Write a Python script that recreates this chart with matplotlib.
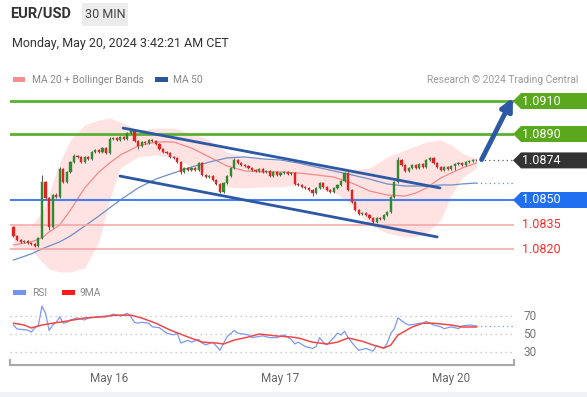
import matplotlib
matplotlib.use("Agg")
import matplotlib.pyplot as plt
import matplotlib.transforms as mtransforms
from matplotlib.patches import Polygon, Rectangle

plt.rcParams['font.family'] = ['Roboto', 'DejaVu Sans']

# --- данные (30-минутные свечи EUR/USD, индекс 0..130) ---
first_open = 1.08336
closes = [
    1.08282, 1.08258, 1.08245, 1.08252, 1.08239, 1.08233, 1.08221, 1.08270, 1.08609, 1.08512,
    1.08336, 1.08530, 1.08518, 1.08688, 1.08609, 1.08670, 1.08730, 1.08767, 1.08761, 1.08730,
    1.08761, 1.08749, 1.08791, 1.08803, 1.08791, 1.08815, 1.08785, 1.08870, 1.08876, 1.08864,
    1.08882, 1.08870, 1.08906, 1.08918, 1.08858, 1.08827, 1.08852, 1.08845, 1.08864, 1.08858,
    1.08839, 1.08809, 1.08791, 1.08785, 1.08761, 1.08755, 1.08730, 1.08670, 1.08694, 1.08682,
    1.08694, 1.08682, 1.08724, 1.08652, 1.08639, 1.08645, 1.08621, 1.08597, 1.08549, 1.08603,
    1.08645, 1.08694, 1.08742, 1.08724, 1.08712, 1.08706, 1.08694, 1.08682, 1.08676, 1.08688,
    1.08670, 1.08673, 1.08645, 1.08670, 1.08652, 1.08664, 1.08670, 1.08658, 1.08664, 1.08597,
    1.08591, 1.08579, 1.08573, 1.08561, 1.08542, 1.08573, 1.08603, 1.08579, 1.08561, 1.08549,
    1.08573, 1.08591, 1.08615, 1.08664, 1.08561, 1.08488, 1.08439, 1.08415, 1.08421, 1.08409,
    1.08391, 1.08367, 1.08391, 1.08385, 1.08409, 1.08427, 1.08518, 1.08609, 1.08742, 1.08712,
    1.08676, 1.08694, 1.08712, 1.08694, 1.08718, 1.08700, 1.08742, 1.08755, 1.08724, 1.08700,
    1.08682, 1.08700, 1.08688, 1.08706, 1.08718, 1.08724, 1.08712, 1.08730, 1.08736, 1.08742,
    1.08740]
# тени свечей, в пунктах
wick_hi = [
    1, 1, 1, 1, 1, 1, 1, 1, 7, 1,
    1, 1, 2, 2, 1, 1, 1, 1.5, 1, 1,
    1, 1, 1, 1, 1, 1, 1, 1.5, 1, 1,
    1, 1, 1, 1.5, 1, 1, 1, 1, 1, 1,
    1, 1, 1, 1, 1, 1, 1, 1, 1, 1,
    1, 1, 1, 1, 1, 1, 1, 1, 1, 1,
    1, 1, 2.5, 1, 1, 1, 1, 1, 1, 1,
    1, 1, 1, 1, 1, 1, 1, 1, 1, 1,
    1, 1, 1, 1, 1, 1, 1, 1, 1, 1,
    1, 1, 1, 1, 1, 1, 1, 1, 1, 1,
    1, 1, 1, 1, 1, 1, 1, 1, 3, 1,
    1, 1, 1, 1, 1, 1, 1, 1, 1, 1,
    1, 1, 1, 1, 1, 1, 1, 1, 1.5, 1,
    1]
wick_lo = [
    1, 1, 1, 1, 1, 1, 1.5, 1, 1, 1,
    3, 1, 1, 1, 1, 1, 1, 1, 1, 1,
    1, 1, 1, 1, 1, 1, 1, 1, 1, 1,
    1, 1, 1, 1, 1, 3, 1, 1, 1, 1,
    1, 1, 1, 1, 1, 1, 1, 2, 1, 1,
    1, 1, 1, 1, 1, 1, 1, 1, 1.5, 1,
    1, 1, 1, 1, 1, 1, 1, 1, 1, 1,
    1, 1, 1, 1, 1, 1, 1, 1, 1, 1,
    1, 1, 1, 1, 2.5, 1, 1, 1, 1, 1,
    1, 1, 1, 1, 1, 1, 1, 1, 1, 1,
    1, 2.5, 1, 1, 1, 1, 1, 1, 1, 1,
    1, 1, 1, 1, 1, 1, 1, 1, 1, 1,
    1, 1, 1, 1, 4, 1, 1, 1, 1, 1,
    1]

band_idx = [0, 5, 8, 10, 13, 16, 20, 24, 27, 30, 35, 40, 45, 50, 55, 60,
            65, 70, 75, 80, 85, 90, 95, 100, 105, 110, 113, 116, 120, 123, 126, 130]
bb_upper = [1.08349, 1.08342, 1.08427, 1.08542, 1.08730, 1.08864, 1.08955, 1.08985,
            1.08997, 1.08973, 1.08924, 1.08936, 1.08936, 1.08906, 1.08864, 1.08791,
            1.08761, 1.08749, 1.08736, 1.08730, 1.08712, 1.08700, 1.08682, 1.08694,
            1.08761, 1.08803, 1.08827, 1.08852, 1.08864, 1.08833, 1.08785, 1.08749]
bb_lower = [1.08215, 1.08203, 1.08124, 1.08082, 1.08064, 1.08064, 1.08088, 1.08246,
            1.08500, 1.08694, 1.08761, 1.08773, 1.08755, 1.08706, 1.08639, 1.08579,
            1.08573, 1.08579, 1.08579, 1.08591, 1.08573, 1.08549, 1.08470, 1.08349,
            1.08300, 1.08276, 1.08276, 1.08300, 1.08379, 1.08530, 1.08633, 1.08694]
ma20 = [1.08227, 1.08246, 1.08270, 1.08306, 1.08349, 1.08439, 1.08573, 1.08670,
        1.08724, 1.08773, 1.08827, 1.08852, 1.08852, 1.08815, 1.08761, 1.08706,
        1.08676, 1.08670, 1.08670, 1.08664, 1.08652, 1.08639, 1.08603, 1.08555,
        1.08530, 1.08524, 1.08542, 1.08573, 1.08633, 1.08664, 1.08694, 1.08724]
ma50 = [1.08136, 1.08173, 1.08203, 1.08221, 1.08246, 1.08282, 1.08342, 1.08403,
        1.08452, 1.08500, 1.08573, 1.08627, 1.08664, 1.08700, 1.08730, 1.08755,
        1.08761, 1.08749, 1.08742, 1.08724, 1.08700, 1.08676, 1.08652, 1.08627,
        1.08597, 1.08585, 1.08585, 1.08585, 1.08591, 1.08591, 1.08597, 1.08603]

rsi_idx = [0, 1, 4, 5, 6, 7, 8, 9, 10, 11, 12, 13, 14, 15, 16, 18, 20, 21, 24, 26,
           28, 30, 32, 33, 34, 35, 36, 38, 39, 41, 43, 45, 46, 47, 49, 50, 52, 53, 54, 56,
           58, 60, 62, 63, 66, 67, 70, 72, 74, 76, 78, 79, 80, 82, 84, 85, 86, 87, 88, 90,
           91, 92, 93, 94, 96, 97, 99, 101, 102, 104, 105, 106, 107, 108, 110, 111, 113, 114,
           115, 116, 118, 120, 121, 123, 125, 126, 128, 130]
rsi_val = [60, 55.6, 54.4, 52.2, 56.7, 60, 81, 73, 54, 60, 63, 69, 62, 63, 65.6, 67.8, 65.6, 67.8, 69, 69,
           72, 70, 73, 69, 63, 62, 63, 62, 58, 57, 51, 49, 51, 40, 43, 41, 44, 40, 38, 41,
           32, 47, 54, 51, 49, 46, 48, 46, 46, 49, 44, 39, 41, 36, 34, 36, 46, 41, 38, 46,
           51, 49, 53, 46, 36, 32, 34, 31, 37, 34, 40, 51, 56, 68, 62, 60, 61, 62,
           62, 64, 60, 58, 56, 58, 56, 59, 60, 59]
rsi_ma_idx = [0, 3, 5, 8, 11, 15, 20, 24, 29, 33, 36, 40, 44, 49, 53, 57, 59, 62, 66, 69,
              74, 78, 80, 84, 88, 91, 94, 98, 101, 104, 106, 108, 112, 115, 118, 123, 126, 130]
rsi_ma_val = [62, 60, 56.7, 60, 62, 64.4, 67.8, 69, 71, 71, 67.8, 62, 54.4, 46.7, 41, 40, 38.9, 43.3, 46.7, 50,
              47.8, 46.7, 45.6, 41, 38.9, 41, 45.6, 42, 37.8, 34.4, 37.8, 48.9, 57.8, 62, 62, 60, 57.8, 57.8]

day_ticks = [27, 75, 123]
day_labels = ["May 16", "May 17", "May 20"]

resistances = [1.0910, 1.0890]
last_price = 1.0874
pivot = 1.0850
supports = [1.0835, 1.0820]

trend_up_x, trend_up_y = [30.8, 119.8], [1.08936, 1.08573]
trend_lo_x, trend_lo_y = [29.9, 119.0], [1.08645, 1.08276]
arrow_start = (131.5, 1.08745)
arrow_end = (140.3, 1.09120)

# --- цвета ---
green_line = '#5cb030'
green_tag = '#5aa81e'
blue_line = '#4a7ff0'
blue_tag = '#1f6ff0'
red_line = '#f5a3a3'
red_text = '#ff2b2b'
dark_blue = '#2c58a4'
candle_up = '#2e8b2e'
candle_dn = '#e02424'

W, H = 587, 397
fig = plt.figure(figsize=(W / 100, H / 100), dpi=100)
fig.patch.set_facecolor('white')

xlim = (-0.98, 140.6)

# ===== основной график =====
ax = fig.add_axes([10 / W, 119 / H, 504 / W, 190 / H])
ax.set_xlim(*xlim)
ax.set_ylim(1.08027, 1.09179)
ax.axis('off')

# полосы Боллинджера и скользящие
ax.fill_between(band_idx, bb_lower, bb_upper, color='#ffd9d9', alpha=0.75, lw=0, zorder=1)
ax.plot(band_idx, ma20, color='#f28a8a', lw=0.9, zorder=2)
ax.plot(band_idx, ma50, color='#6f8fc8', lw=0.9, zorder=2)
ax.plot([band_idx[-1], xlim[1]], [ma50[-1], ma50[-1]], color='#6f8fc8', lw=0.9,
        linestyle=(0, (1, 2.5)), zorder=2)

# уровни
for lv in resistances:
    ax.axhline(lv, color=green_line, lw=2, zorder=3)
ax.axhline(pivot, color=blue_line, lw=1.5, zorder=3)
for lv in supports:
    ax.axhline(lv, color=red_line, lw=1.1, zorder=3)

# свечи
opens = [first_open] + closes[:-1]
for i, (o, c) in enumerate(zip(opens, closes)):
    hi = max(o, c) + wick_hi[i] * 1e-4 * 0.6
    lo = min(o, c) - wick_lo[i] * 1e-4 * 0.6
    col = candle_up if c >= o else candle_dn
    ax.vlines(i, lo, hi, color='#555555', lw=0.7, zorder=4)
    body = max(abs(c - o), 0.00003)
    ax.bar(i, body, bottom=min(o, c), width=0.6, color=col, edgecolor=col,
           lw=0.3, zorder=5)

# трендовый канал
ax.plot(trend_up_x, trend_up_y, color=dark_blue, lw=2, solid_capstyle='round', zorder=6)
ax.plot(trend_lo_x, trend_lo_y, color=dark_blue, lw=2, solid_capstyle='round', zorder=6)

# последняя цена
ax.plot([len(closes), xlim[1]], [last_price, last_price], color='#555555', lw=0.9,
        linestyle=(0, (1, 2.5)), zorder=6)

ax.annotate('', xy=arrow_end, xytext=arrow_start,
            arrowprops=dict(arrowstyle='-|>', color=dark_blue, lw=3.5,
                            mutation_scale=18, shrinkA=0, shrinkB=0),
            zorder=7, annotation_clip=False)

# ярлыки справа
trans = mtransforms.blended_transform_factory(ax.transAxes, ax.transData)
half = 8 * 0.0000606
tip_x, body_x, end_x = (513 - 10) / 504, (521 - 10) / 504, (590 - 10) / 504
text_x = (541 - 10) / 504


def tag(level, color):
    poly = Polygon([[tip_x, level], [body_x, level + half], [end_x, level + half],
                    [end_x, level - half], [body_x, level - half]],
                   closed=True, transform=trans, facecolor=color, edgecolor='none',
                   clip_on=False, zorder=8)
    ax.add_patch(poly)
    ax.text(text_x, level, f"{level:.4f}", transform=trans, ha='center', va='center',
            color='white', fontsize=9, zorder=9, clip_on=False)


tag(resistances[0], green_tag)
tag(resistances[1], green_tag)
tag(last_price, '#333333')
tag(pivot, blue_tag)
for lv in supports:
    ax.text(text_x, lv, f"{lv:.4f}", transform=trans, ha='center', va='center',
            color=red_text, fontsize=9, clip_on=False)

# ===== RSI =====
ax2 = fig.add_axes([10 / W, 32 / H, 504 / W, 65 / H])
ax2.set_xlim(*xlim)
ax2.set_ylim(15.6, 87.8)
for s in ['top', 'right', 'left']:
    ax2.spines[s].set_visible(False)
ax2.spines['bottom'].set_color('#a8a8a8')
ax2.spines['bottom'].set_linewidth(1.5)
ax2.set_yticks([])
rsi_trans = mtransforms.blended_transform_factory(ax2.transAxes, ax2.transData)
for lv in [30, 50, 70]:
    ax2.axhline(lv, color='#bdbdbd', lw=0.9, linestyle=(0, (1, 3)), zorder=1)
    ax2.text((530 - 10) / 504, lv, str(lv), transform=rsi_trans, ha='center', va='center',
             color='#777777', fontsize=8.5, clip_on=False)
ax2.plot(rsi_idx, rsi_val, color='#7b98f2', lw=0.9, zorder=3)
ax2.plot(rsi_ma_idx, rsi_ma_val, color='#f04848', lw=1.1, zorder=4)
ax2.plot([rsi_idx[-1], xlim[1]], [rsi_val[-1], rsi_val[-1]], color='#7b98f2', lw=0.9,
         linestyle=(0, (1, 2.5)), zorder=3)
for xe in xlim:
    ax2.plot([xe, xe], [15.6, 21.5], color='#a8a8a8', lw=1.5, clip_on=False)
ax2.set_xticks(day_ticks, day_labels)
ax2.tick_params(axis='x', length=0, pad=5, colors='#666666', labelsize=8.5)

# ===== шапка и легенды =====
def fy(px):
    return 1 - px / H


fig.text(10 / W, fy(14), "EUR/USD", fontsize=10.5, fontweight='bold', color='#333333', va='center')
fig.patches.append(Rectangle((82 / W, fy(26)), 46 / W, 23 / H, transform=fig.transFigure,
                             facecolor='#ececec', edgecolor='none'))
fig.text(105 / W, fy(14.5), "30 MIN", fontsize=9, color='#444444', ha='center', va='center')
fig.text(12 / W, fy(43), "Monday, May 20, 2024 3:42:21 AM CET", fontsize=9,
         color='#333333', va='center')

fig.patches.append(Rectangle((13 / W, fy(82)), 12 / W, 5 / H, transform=fig.transFigure,
                             facecolor='#f58e8e', edgecolor='none'))
fig.text(32 / W, fy(80), "MA 20 + Bollinger Bands", fontsize=7.4, color='#888888', va='center')
fig.patches.append(Rectangle((155 / W, fy(82)), 13 / W, 5 / H, transform=fig.transFigure,
                             facecolor='#2b579a', edgecolor='none'))
fig.text(173 / W, fy(80), "MA 50", fontsize=7.4, color='#888888', va='center')
fig.text(578 / W, fy(80), "Research \u00a9 2024 Trading Central", fontsize=7.4,
         color='#9a9a9a', va='center', ha='right')

fig.patches.append(Rectangle((13 / W, fy(295)), 13 / W, 5 / H, transform=fig.transFigure,
                             facecolor='#7094f0', edgecolor='none'))
fig.text(32 / W, fy(293), "RSI", fontsize=7.4, color='#888888', va='center')
fig.patches.append(Rectangle((62 / W, fy(295)), 13 / W, 5 / H, transform=fig.transFigure,
                             facecolor='#ff1a1a', edgecolor='none'))
fig.text(80 / W, fy(293), "9MA", fontsize=7.4, color='#888888', va='center')

# светлая полоса внизу
fig.patches.append(Rectangle((0, 0), 1, 5 / H, transform=fig.transFigure,
                             facecolor='#eef3f7', edgecolor='none'))

fig.savefig('out.png', dpi=100)
